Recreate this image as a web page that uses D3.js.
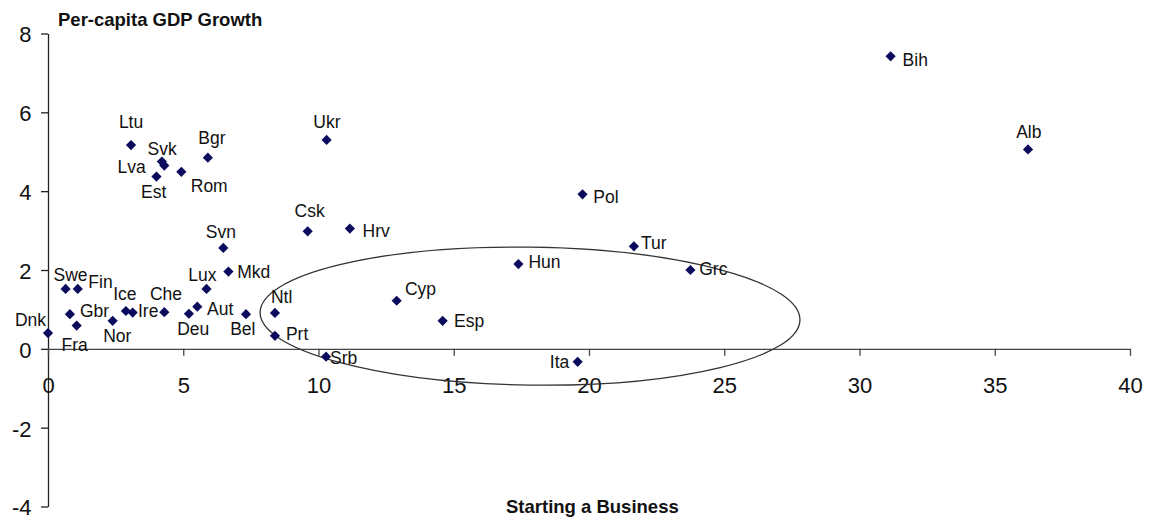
<!DOCTYPE html>
<html>
<head>
<meta charset="utf-8">
<script src="https://cdn.jsdelivr.net/npm/d3@7"></script>
<style>
  html, body { margin: 0; padding: 0; background: #fff; }
  svg { display: block; }
  text { font-family: "Liberation Sans", Arial, sans-serif; fill: #111; }
</style>
</head>
<body>
<svg id="chart" width="1153" height="524"></svg>
<script>
// Country codes with the "Starting a Business" score and per-capita GDP growth
const countries = ["Dnk","Fra","Gbr","Swe","Fin","Nor","Ice","Ire","Che","Deu","Aut","Lux",
  "Svn","Mkd","Bel","Ntl","Prt","Srb","Csk","Hrv","Ukr","Ltu","Svk","Lva","Est","Rom","Bgr",
  "Pol","Tur","Hun","Cyp","Esp","Ita","Grc","Bih","Alb"];
const startingBusiness = [0.0,1.06,0.81,0.65,1.10,2.39,2.88,3.13,4.30,5.21,5.52,5.86,
  6.48,6.67,7.32,8.39,8.39,10.28,9.60,11.16,10.30,3.07,4.21,4.30,4.01,4.93,5.91,
  19.76,21.66,17.39,12.89,14.59,19.58,23.75,31.15,36.23];
const gdpGrowth = [0.40,0.59,0.88,1.52,1.52,0.71,0.96,0.92,0.93,0.89,1.07,1.52,
  2.56,1.96,0.88,0.91,0.33,-0.20,2.98,3.05,5.30,5.17,4.75,4.65,4.37,4.49,4.85,
  3.92,2.60,2.15,1.22,0.71,-0.33,2.00,7.42,5.06];

const xTicks = [0,5,10,15,20,25,30,35,40];
const yTicks = [-4,-2,0,2,4,6,8];

// Highlighted group: centre and half-widths in data units
const ellipseCenter = [17.82, 0.83];
const ellipseRadii = [9.98, 1.75];

// Label placement around each marker: [anchor, dx, dy] in pixels
const labelPlacement = {
  Dnk:["end",-2,-7], Fra:["middle",-2,25], Gbr:["start",10,3], Swe:["middle",5,-8.3],
  Fin:["start",10.6,-0.7], Nor:["middle",4.6,21], Ice:["middle",-1,-11], Ire:["start",5.3,4],
  Che:["middle",1.7,-12], Deu:["middle",4.3,21], Aut:["start",9.7,8.3], Lux:["middle",-4.2,-8.3],
  Svn:["middle",-2.5,-10], Mkd:["start",8.8,6.6], Bel:["middle",-3.2,21], Ntl:["middle",6.7,-9.5],
  Prt:["start",11,4.3], Srb:["start",4,7.5], Csk:["middle",2,-14.8], Hrv:["start",12.7,8.2],
  Ukr:["middle",0.3,-11.7], Ltu:["middle",0,-16.7], Svk:["middle",0.3,-6.7], Lva:["end",-18.6,7.2],
  Est:["middle",-2.8,21.5], Rom:["start",9.4,20.3], Bgr:["middle",4,-13.8], Pol:["start",10.8,9],
  Tur:["start",7,2.7], Hun:["start",10,4.3], Cyp:["start",8.3,-5.7], Esp:["start",11.3,6.6],
  Ita:["end",-8.4,6.6], Grc:["start",8.8,5], Bih:["start",12,9.5], Alb:["middle",0.8,-11.2]
};

const svg = d3.select("#chart");
svg.append("rect").attr("width",1153).attr("height",524).attr("fill","#fff");

const x = d3.scaleLinear().domain([0,40]).range([48,1130]);
const y = d3.scaleLinear().domain([-4,8]).range([506.5,33.5]);

const data = countries.map((c,i) => ({name:c, x:startingBusiness[i], y:gdpGrowth[i]}));

// Plain hyphen for negative tick labels
const plainNumber = d => String(d);

// Y axis along x = 0
const yAxis = svg.append("g")
  .attr("transform", `translate(${x(0)},0)`)
  .call(d3.axisLeft(y).tickValues(yTicks).tickSize(7).tickSizeOuter(0).tickPadding(9.5)
    .tickFormat(plainNumber));
yAxis.select(".domain").attr("stroke","#222").attr("stroke-width",1.3);
yAxis.selectAll(".tick line").attr("stroke","#222").attr("stroke-width",1.3);
yAxis.selectAll(".tick text").attr("font-size",22).attr("fill","#111")
  .attr("font-family","Liberation Sans, Arial, sans-serif").attr("dy","0.38em");

// X axis along y = 0
const xAxis = svg.append("g")
  .attr("transform", `translate(0,${y(0)})`)
  .call(d3.axisBottom(x).tickValues(xTicks).tickSize(7).tickSizeOuter(0).tickPadding(21.6)
    .tickFormat(plainNumber));
xAxis.select(".domain").attr("stroke","#444").attr("stroke-width",1.3);
xAxis.selectAll(".tick line").attr("stroke","#444").attr("stroke-width",1.3);
xAxis.selectAll(".tick text").attr("font-size",22).attr("fill","#111")
  .attr("font-family","Liberation Sans, Arial, sans-serif");

// Ellipse around the group
svg.append("ellipse")
  .attr("cx", x(ellipseCenter[0]))
  .attr("cy", y(ellipseCenter[1]))
  .attr("rx", x(ellipseCenter[0] + ellipseRadii[0]) - x(ellipseCenter[0]))
  .attr("ry", y(ellipseCenter[1]) - y(ellipseCenter[1] + ellipseRadii[1]))
  .attr("transform", `rotate(0.8 ${x(ellipseCenter[0])} ${y(ellipseCenter[1])})`)
  .attr("fill","none").attr("stroke","#333").attr("stroke-width",1.3);

// Diamond markers
const diamond = d3.symbol().type(d3.symbolSquare).size(52);
svg.append("g").selectAll("path").data(data).join("path")
  .attr("d", diamond)
  .attr("transform", d => `translate(${x(d.x)},${y(d.y)}) rotate(45)`)
  .attr("fill","#0b0b5e");

// Country labels
svg.append("g").selectAll("text").data(data).join("text")
  .attr("x", d => x(d.x) + labelPlacement[d.name][1])
  .attr("y", d => y(d.y) + labelPlacement[d.name][2])
  .attr("text-anchor", d => labelPlacement[d.name][0])
  .attr("font-size", 17.5)
  .text(d => d.name);

// Axis titles
svg.append("text").attr("x",58).attr("y",26)
  .attr("font-size",18.5).attr("font-weight","bold")
  .text("Per-capita GDP Growth");
svg.append("text").attr("x",506).attr("y",513)
  .attr("font-size",18.5).attr("font-weight","bold")
  .text("Starting a Business");
</script>
</body>
</html>
